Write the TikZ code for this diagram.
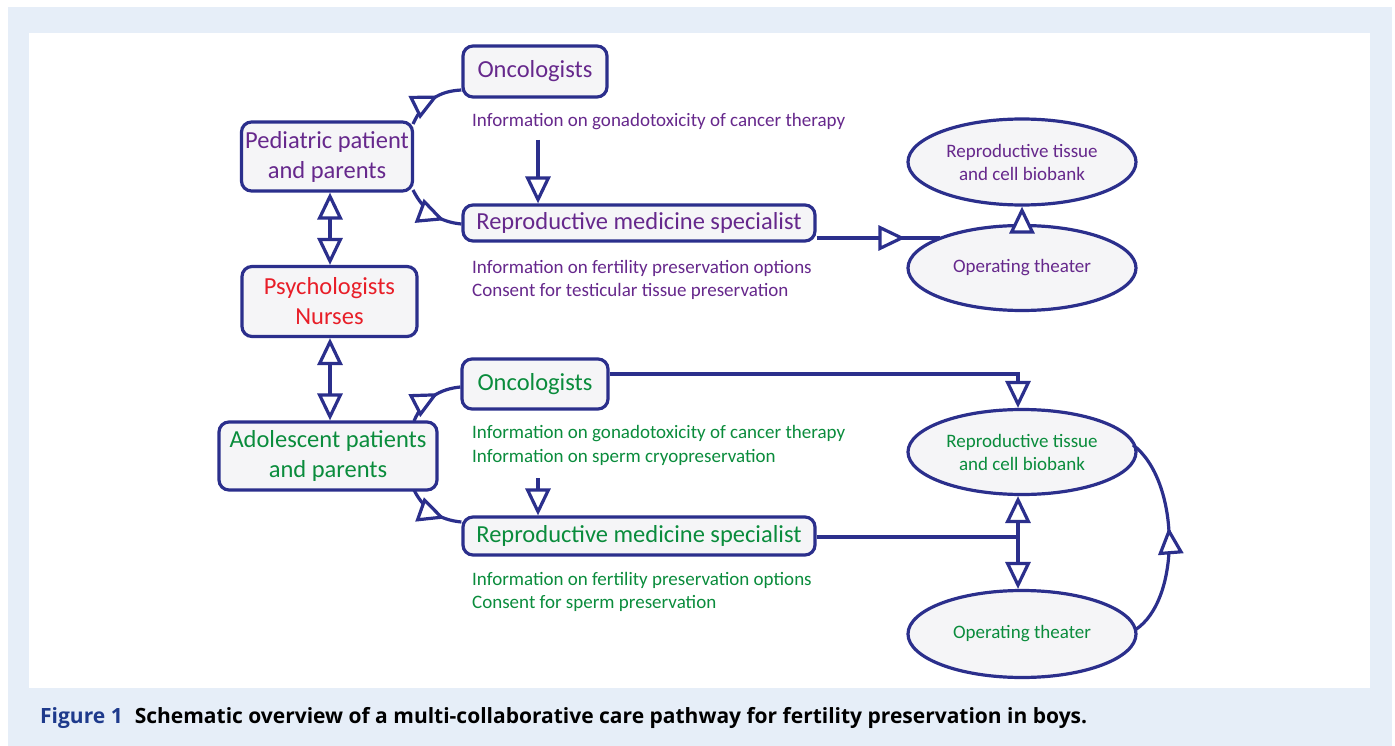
\documentclass[tikz,border=0pt]{standalone}
\usepackage{fontspec}
\setmainfont{Carlito}
\newfontfamily\capfont{Open Sans}
\usetikzlibrary{arrows.meta,shapes.geometric,decorations.markings}
\definecolor{navy}{RGB}{43,47,140}
\definecolor{purp}{RGB}{102,40,140}
\definecolor{grn}{RGB}{10,140,60}
\definecolor{rd}{RGB}{232,30,40}
\definecolor{bgblue}{RGB}{230,238,248}
\definecolor{boxfill}{RGB}{245,245,247}
\definecolor{capblue}{RGB}{30,58,140}
\tikzset{
  box/.style={draw=navy, line width=3.2pt, rounded corners=10pt, fill=boxfill, inner sep=0pt, align=center, font=\fontsize{24.5}{30}\selectfont},
  ell/.style={ellipse, draw=navy, line width=3.2pt, fill=boxfill, inner sep=0pt, align=center, minimum width=228pt, font=\fontsize{19}{23}\selectfont},
  info/.style={anchor=west, inner sep=0pt, font=\fontsize{19}{23}\selectfont},
  conn/.style={draw=navy, line width=3.2pt},
  tip/.style={-{Triangle[fill=white,length=27pt,width=25pt]}},
  dtip/.style={{Triangle[fill=white,length=27pt,width=25pt]}-{Triangle[fill=white,length=27pt,width=25pt]}},
  midtip/.style={postaction={decorate}, decoration={markings, mark=at position #1 with {\arrow{Triangle[fill=white,length=27pt,width=25pt]}}}}
}
\begin{document}
\begin{tikzpicture}[x=1pt,y=-1pt]
\useasboundingbox (0,0) rectangle (1395,746);
\fill[bgblue] (8,7) rectangle (1392,746);
\fill[white] (29,33) rectangle (1370,688);
% boxes top
\node[box, text=purp, minimum width=171pt, minimum height=69pt] (ped) at (327,156.5) {Pediatric patient\\and parents};
\node[box, text=purp, minimum width=144pt, minimum height=51pt] (onc1) at (535,71.5) {Oncologists};
\node[box, text=purp, minimum width=352pt, minimum height=36pt] (spec1) at (639,223) {Reproductive medicine specialist};
\node[box, text=rd, minimum width=175pt, minimum height=70pt] (psy) at (329.5,301.5) {Psychologists\\Nurses};
\node[box, text=grn, minimum width=218pt, minimum height=68pt] (ado) at (328,456) {Adolescent patients\\and parents};
\node[box, text=grn, minimum width=146pt, minimum height=50pt] (onc2) at (535,384) {Oncologists};
\node[box, text=grn, minimum width=352pt, minimum height=38pt] (spec2) at (639,536) {Reproductive medicine specialist};
% ellipses
\node[ell, text=purp, minimum height=86pt] (bio1) at (1022,162) {Reproductive tissue\\and cell biobank};
\node[ell, text=purp, minimum height=85pt] (op1) at (1022,268) {Operating theater};
\node[ell, text=grn, minimum height=85pt] (bio2) at (1022,452) {Reproductive tissue\\and cell biobank};
\node[ell, text=grn, minimum height=87pt] (op2) at (1022,634) {Operating theater};
% info text
\node[info, text=purp] (i1) at (472,122) {Information on gonadotoxicity of cancer therapy};
\node[info, text=purp] (i2) at (472,268) {Information on fertility preservation options};
\node[info, text=purp] (i3) at (472,291) {Consent for testicular tissue preservation};
\node[info, text=grn] (i4) at (472,434) {Information on gonadotoxicity of cancer therapy};
\node[info, text=grn] (i5) at (472,457) {Information on sperm cryopreservation};
\node[info, text=grn] (i6) at (472,580) {Information on fertility preservation options};
\node[info, text=grn] (i7) at (472,603) {Consent for sperm preservation};
% coordinates
\coordinate (a1) at (538,140);
\coordinate (a2) at (538,478);
\coordinate (j2) at (1018,537);
\coordinate (t1) at (1018,374);
% connectors
\draw[conn,dtip] (ped.south -| 330,0) -- (psy.north -| 330,0);
\draw[conn,dtip] (psy.south -| 330,0) -- (ado.north -| 330,0);
\draw[conn,tip] (a1) -- (a1 |- spec1.north);
\draw[conn,tip] (a2) -- (a2 |- spec2.north);
\draw[conn,midtip=0.62] (413,124) .. controls (424,100) and (440,91) .. (onc1.west |- 0,90);
\draw[conn,midtip=0.72] (413,190) .. controls (424,212) and (440,222) .. (spec1.west |- 0,224);
\draw[conn,midtip=0.62] (414,421) .. controls (424,398) and (440,389) .. (onc2.west |- 0,387);
\draw[conn,midtip=0.72] (414,490) .. controls (424,510) and (440,520) .. (spec2.west |- 0,522);
\draw[conn,midtip=0.72] (spec1.east |- 0,238) -- (940,238);
\draw[conn,tip] (op1.north) -- (bio1.south);
\draw[conn,tip] (onc2.east |- t1) -- (t1) -- (t1 |- bio2.north);
\draw[conn] (spec2.east |- j2) -- (j2);
\draw[conn,tip] (j2) -- (j2 |- bio2.south);
\draw[conn,tip] (j2) -- (j2 |- op2.north);
\draw[conn,midtip=0.55] (1135,630) .. controls (1182,600) and (1180,480) .. (1133,445);
% caption
\node[anchor=west, inner sep=0pt, font=\capfont\fontsize{21}{24}\selectfont\bfseries] (cap) at (40,718) {{\color{capblue}Figure 1}\hspace{12pt}Schematic overview of a multi-collaborative care pathway for fertility preservation in boys.};
\end{tikzpicture}
\end{document}
